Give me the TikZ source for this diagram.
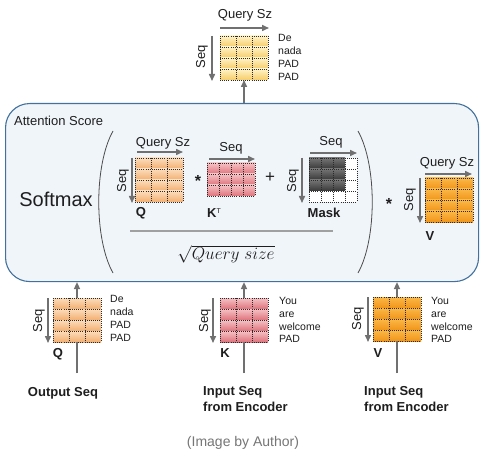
\documentclass[tikz,border=0pt]{standalone}
\usepackage{fontspec}
\setmainfont{Liberation Sans}
\usetikzlibrary{arrows.meta,calc}
\definecolor{boxfill}{HTML}{F0F5FA}
\definecolor{boxdraw}{HTML}{41719C}
\definecolor{arrgray}{HTML}{707070}
\definecolor{gridcol}{HTML}{2A2A2A}
\definecolor{txt}{HTML}{1E1E1E}
\definecolor{yelT}{HTML}{FFF2C6}
\definecolor{yelB}{HTML}{F7CC66}
\definecolor{qT}{HTML}{FCDDBB}
\definecolor{qB}{HTML}{F2AE70}
\definecolor{kT}{HTML}{F6C2C5}
\definecolor{kB}{HTML}{DE727B}
\definecolor{vT}{HTML}{FCB846}
\definecolor{vB}{HTML}{EF951A}
\definecolor{maskT}{HTML}{747474}
\definecolor{maskB}{HTML}{383838}
\definecolor{capgray}{HTML}{767676}
\definecolor{fracgray}{HTML}{A0A0A0}
\newcommand\gmat[9]{%
  \pgfmathsetmacro\gw{#4*#6}%
  \pgfmathsetmacro\gh{#5*#7}%
  \node[inner sep=0,outer sep=0,minimum width=\gw pt,minimum height=\gh pt,anchor=north west] (#1) at (#2,#3) {};
  \foreach \r in {1,...,#5}{\shade[top color=#8,bottom color=#9] (#2,{#3+(\r-1)*#7}) rectangle ++(\gw,#7);}
  \foreach \c in {1,...,#4}{\draw[gridline] ({#2+\c*#6},#3) -- ++(0,\gh);}
  \foreach \r in {1,...,#5}{\draw[gridline] (#2,{#3+\r*#7}) -- ++(\gw,0);}
  \draw[gridline] (#2,#3) -- ++(\gw,0);
  \draw[gridline] (#2,#3) -- ++(0,\gh);
}
\newcommand\maskmat[3]{%
  \node[inner sep=0,outer sep=0,minimum width=48pt,minimum height=44pt,anchor=north west] (#1) at (#2,#3) {};
  \fill[white] (#2,#3) rectangle ++(48,44);
  \foreach \r in {0,1,2}{\shade[top color=maskT,bottom color=maskB] (#2,{#3+\r*11}) rectangle ++(36,11);}
  \foreach \c in {0,...,4}{\draw[gridline] ({#2+\c*12},#3) -- ++(0,44);}
  \foreach \r in {0,...,4}{\draw[gridline] (#2,{#3+\r*11}) -- ++(48,0);}
}
\begin{document}
\begin{tikzpicture}[x=1pt,y=-1pt,
  dim/.style={draw=arrgray,line width=1.5pt,-{Triangle[length=7pt,width=6pt]}},
  conn/.style={draw=arrgray,line width=1.2pt},
  gridline/.style={draw=gridcol,line width=0.6pt,dash pattern=on 0.6pt off 1.5pt},
  t13/.style={inner sep=0,text=txt,font=\fontsize{13}{15}\selectfont},
  b13/.style={inner sep=0,text=txt,font=\fontsize{13}{16}\selectfont\bfseries},
  side/.style={inner sep=0,text=txt,align=left,anchor=north west,font=\fontsize{10.5}{12.8}\selectfont},
  paren/.style={draw=black!70,line width=0.8pt}]
\useasboundingbox (0,0) rectangle (487,457);
\fill[white] (0,0) rectangle (487,457);

% attention box
\node[draw=boxdraw,fill=boxfill,line width=1.1pt,rounded corners=24pt,inner sep=0,
      minimum width=473pt,minimum height=178pt,anchor=north west] (box) at (5,103) {};

% lines from inputs
\gmat{qb}{53}{298}{3}{4}{16}{11}{qT}{qB}
\gmat{kb}{220}{298}{3}{4}{16}{11}{kT}{kB}
\gmat{vb}{373}{297}{3}{4}{16}{11}{vT}{vB}
\coordinate (qsrc) at ($(qb.south)+(0,31)$);
\coordinate (ksrc) at ($(kb.south)+(0,31)$);
\coordinate (vsrc) at ($(vb.south)+(0,32)$);
\draw[conn] (qsrc) -- (qb.south);
\draw[conn] (ksrc) -- (kb.south);
\draw[conn] (vsrc) -- (vb.south);
\draw[dim] (qb.north) -- (qb.north |- box.south);
\draw[dim] (kb.north) -- (kb.north |- box.south);
\draw[dim] (vb.north) -- (vb.north |- box.south);

% top output matrix
\gmat{topm}{220}{36}{3}{4}{16}{11}{yelT}{yelB}
\draw[dim] (topm.south |- box.north) -- (topm.south);
\node[t13] (qsztop) at (245,15) {Query Sz};
\draw[dim] ([yshift=8pt]topm.north west) -- ([yshift=8pt,xshift=1pt]topm.north east);
\node[t13,rotate=90] (seqtop) at (202,57) {Seq};
\draw[dim] ([xshift=-8pt]topm.north west) -- ([xshift=-8pt,yshift=-1pt]topm.south west);
\node[side] (labtop) at (278,34.5) {De\\nada\\PAD\\PAD};

% inside the box
\node[t13,anchor=west] (att) at (14,121) {Attention Score};
\node[inner sep=0,text=txt,font=\fontsize{20}{24}\selectfont] (smax) at (56,199) {Softmax};
\coordinate (lpt) at (113,131);
\coordinate (lpb) at (113,273);
\coordinate (rpt) at (358,131);
\coordinate (rpb) at (358,273);
\draw[paren] (lpt) .. controls (94,165) and (94,239) .. (lpb);
\draw[paren] (rpt) .. controls (377,165) and (377,239) .. (rpb);

% Q inside
\gmat{qin}{135}{158}{3}{4}{16}{11}{qT}{qB}
\node[t13] (qszin) at (163,143) {Query Sz};
\draw[dim] ([yshift=6pt,xshift=2pt]qin.north west) -- ([yshift=6pt]qin.north east);
\node[t13,rotate=90] (seqq) at (123,181) {Seq};
\draw[dim] ([xshift=-3pt]qin.north west) -- ([xshift=-3pt,yshift=-1pt]qin.south west);
\node[b13] (qlab) at (141,213) {Q};
\node[t13,font=\fontsize{16}{16}\selectfont\bfseries] (star1) at (198,181) {*};

% K^T
\gmat{kt}{207}{163}{4}{3}{12}{11}{kT}{kB}
\node[t13] (seqkt) at (231,148) {Seq};
\draw[dim] ([yshift=4pt,xshift=2pt]kt.north west) -- ([yshift=4pt]kt.north east);
\node[b13,anchor=west] (ktlab) at (207,213) {K\raisebox{4.5pt}{\fontsize{7}{7}\selectfont\mdseries T}};
\node[t13,font=\fontsize{17}{17}\selectfont] (plus) at (270,178) {+};

% Mask
\maskmat{mask}{309}{158}
\node[t13] (seqm) at (331,142) {Seq};
\draw[dim] ([yshift=5pt,xshift=1pt]mask.north west) -- ([yshift=5pt]mask.north east);
\node[t13,rotate=90] (seqmv) at (293,181) {Seq};
\draw[dim] ([xshift=-7pt]mask.north west) -- ([xshift=-7pt,yshift=-1pt]mask.south west);
\node[b13] (masklab) at (324,213) {Mask};

% fraction
\coordinate (fl) at (130,231);
\coordinate (fr) at (333,231);
\draw[draw=fracgray,line width=1.8pt] (fl) -- (fr);
\node[inner sep=0,text=txt,font=\fontsize{17}{20}\selectfont] (sqrt) at (226,254) {$\sqrt{Query\ size}$};

% V inside
\node[t13,font=\fontsize{16}{16}\selectfont\bfseries] (star2) at (389,204) {*};
\gmat{vin}{425}{178}{3}{4}{16}{11}{vT}{vB}
\node[t13] (qszv) at (447,163) {Query Sz};
\draw[dim] ([yshift=4pt]vin.north west) -- ([yshift=4pt,xshift=-1pt]vin.north east);
\node[t13,rotate=90] (seqv) at (410,200) {Seq};
\draw[dim] ([xshift=-5pt]vin.north west) -- ([xshift=-5pt,yshift=-1pt]vin.south west);
\node[b13] (vlab) at (430,236) {V};

% bottom matrices decorations
\node[t13,rotate=90] (seqqb) at (39,321) {Seq};
\draw[dim] ([xshift=-5pt]qb.north west) -- ([xshift=-5pt,yshift=-1pt]qb.south west);
\node[side] (labq) at (110,295.5) {De\\nada\\PAD\\PAD};
\node[b13] (qblab) at (58,354) {Q};
\node[b13] (outseq) at (63,393) {Output Seq};

\node[t13,rotate=90] (seqkb) at (205,321) {Seq};
\draw[dim] ([xshift=-7pt]kb.north west) -- ([xshift=-7pt,yshift=-1pt]kb.south west);
\node[side] (labk) at (279,297) {You\\are\\welcome\\PAD};
\node[b13] (kblab) at (225,353) {K};
\node[b13,align=left,anchor=north west] (inseqk) at (203,386) {Input Seq\\from Encoder};

\node[t13,rotate=90] (seqvb) at (358,319) {Seq};
\draw[dim] ([xshift=-5pt]vb.north west) -- ([xshift=-5pt,yshift=-1pt]vb.south west);
\node[side] (labv) at (431,297) {You\\are\\welcome\\PAD};
\node[b13] (vblab) at (378,353) {V};
\node[b13,align=left,anchor=north west] (inseqv) at (364,386) {Input Seq\\from Encoder};

\node[inner sep=0,text=capgray,font=\fontsize{14}{16}\selectfont] (cap) at (243,443) {(Image by Author)};
\end{tikzpicture}
\end{document}
